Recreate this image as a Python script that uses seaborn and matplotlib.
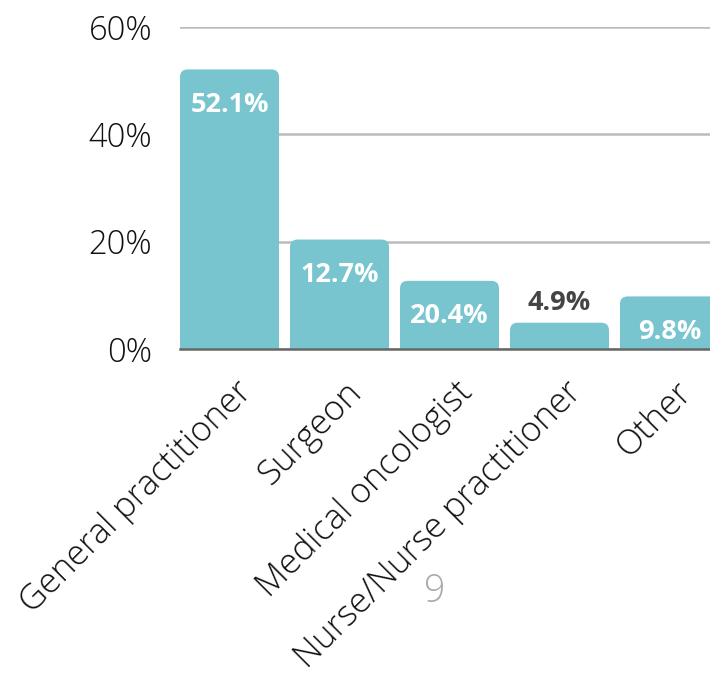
import matplotlib
matplotlib.use("Agg")
import matplotlib.pyplot as plt
import matplotlib.transforms as mtransforms
import seaborn as sns
import pandas as pd
from matplotlib.patches import FancyBboxPatch

categories = ["General practitioner", "Surgeon", "Medical oncologist",
              "Nurse/Nurse practitioner", "Other"]
bar_values = [52.1, 20.4, 12.7, 4.9, 9.8]
bar_labels = ["52.1%", "12.7%", "20.4%", "4.9%", "9.8%"]
y_ticks = [0, 20, 40, 60]
y_tick_labels = ["0%", "20%", "40%", "60%"]
page_number = "9"

sns.set_theme(style="white")
plt.rcParams['font.family'] = ['Open Sans', 'DejaVu Sans']

BAR = "#78C5D0"
df = pd.DataFrame({"cat": categories, "val": bar_values})

fig = plt.figure(figsize=(7.10, 6.77), dpi=100)
W, H = 710, 677
ax = fig.add_axes([180 / W, (H - 349) / H, 539 / W, 322 / H])

sns.barplot(data=df, x="cat", y="val", color=BAR, width=0.9,
            saturation=1, ax=ax, zorder=3)

ax.set_xlim(-0.45, 4.45)
ax.set_ylim(0, 60)

# rounded bar tops
for p in list(ax.patches):
    x, y = p.get_x(), p.get_y()
    w, h = p.get_width(), p.get_height()
    p.set_visible(False)
    fb = FancyBboxPatch((x, y), w, h, boxstyle="round,pad=0,rounding_size=0.07",
                        mutation_aspect=(60 / 322) / (4.9 / 539),
                        facecolor=BAR, edgecolor="none", zorder=3)
    ax.add_patch(fb)
    ax.add_patch(plt.Rectangle((x, y), w, min(h, 3), facecolor=BAR,
                               edgecolor="none", zorder=3))

for i, (v, lab) in enumerate(zip(bar_values, bar_labels)):
    if v < 7:
        ax.text(i, v + 3.7, lab, ha="center", va="center", color="#444444",
                fontsize=19.5, fontweight="bold", zorder=5)
    else:
        ax.text(i, v - 6.6, lab, ha="center", va="center", color="white",
                fontsize=19.5, fontweight="bold", zorder=5)

ax.set_yticks(y_ticks)
ax.set_yticklabels(y_tick_labels, fontsize=23.5, color="#111111", fontweight="light")
ax.yaxis.grid(True, color="#bbbbbb", linewidth=1.8, zorder=0)
ax.xaxis.grid(False)
for s in ["top", "right", "left"]:
    ax.spines[s].set_visible(False)
ax.spines["bottom"].set_color("#666666")
ax.spines["bottom"].set_linewidth(1.8)
ax.spines["bottom"].set_zorder(4)
ax.tick_params(axis="y", length=0, pad=20)
ax.tick_params(axis="x", length=0, pad=0)
ax.set_xlabel("")
ax.set_ylabel("")
ax.set_xticks(range(len(categories)))
ax.set_xticklabels(categories, rotation=45, ha="right", va="top",
                   rotation_mode="anchor", fontsize=25, color="#111111",
                   fontweight="light")
offset = mtransforms.ScaledTranslation(5 / 100, -26 / 100, fig.dpi_scale_trans)
for lbl in ax.get_xticklabels():
    lbl.set_transform(lbl.get_transform() + offset)

fig.text(435 / W, 1 - 592 / H, page_number, ha="center", va="center",
         fontsize=27, color="#aaaaaa", fontweight="light")

fig.savefig("out.png", dpi=100)
